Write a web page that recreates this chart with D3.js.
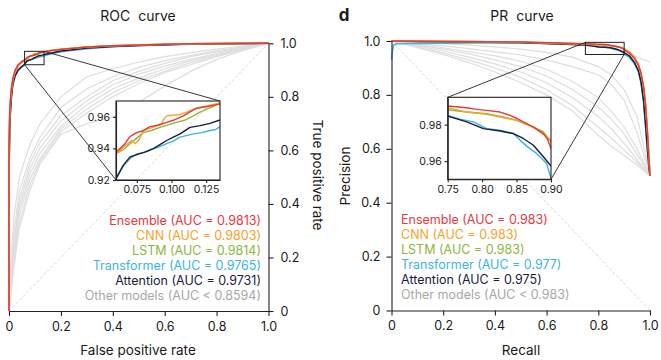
<!DOCTYPE html>
<html><head><meta charset="utf-8">
<script src="https://cdn.jsdelivr.net/npm/d3@7"></script>
<style>
body{margin:0;background:#fff}
svg{display:block}
text{font-family:"Inter","Noto Sans",sans-serif;fill:#1a1a1a}
</style>
</head><body>
<svg id="c" width="661" height="360"></svg>
<script>
// ---------------- DATA ----------------
const models = ["Ensemble", "CNN", "LSTM", "Transformer", "Attention"];
const rocAuc = ["0.9813", "0.9803", "0.9814", "0.9765", "0.9731"];
const prAuc = ["0.983", "0.983", "0.983", "0.977", "0.975"];
const otherRocAuc = "0.8594";
const otherPrAuc = "0.983";
const mainTicks = [0, 0.2, 0.4, 0.6, 0.8, 1.0];
const rocInsetXTicks = [0.075, 0.100, 0.125];
const rocInsetYTicks = [0.92, 0.94, 0.96];
const prInsetXTicks = [0.75, 0.80, 0.85, 0.90];
const prInsetYTicks = [0.96, 0.98];
const rocInsetDomainX = [0.06, 0.135];
const rocInsetDomainY = [0.92, 0.97];
const prInsetDomainX = [0.75, 0.90];
const prInsetDomainY = [0.95, 0.995];

// ROC curves [fpr, tpr]
const rocEnsemble = [[0,0],[0,0.6],[0.002,0.72],[0.004,0.765],[0.007,0.81],[0.01,0.838],[0.015,0.87],[0.023,0.898],[0.035,0.92],[0.048,0.931],[0.06,0.9377],[0.063,0.940],[0.0665,0.943],[0.070,0.9475],[0.0749,0.950],[0.079,0.951],[0.0845,0.9538],[0.090,0.9545],[0.0965,0.9565],[0.102,0.958],[0.1086,0.9606],[0.113,0.963],[0.118,0.9654],[0.126,0.9665],[0.135,0.968],[0.16,0.972],[0.2,0.977],[0.3,0.986],[0.4,0.991],[0.5,0.994],[0.6,0.996],[0.7,0.998],[0.8,0.999],[1,1]];
const rocCNN = [[0,0],[0,0.55],[0.002,0.70],[0.004,0.76],[0.007,0.80],[0.01,0.83],[0.015,0.865],[0.023,0.893],[0.035,0.915],[0.048,0.928],[0.06,0.9367],[0.0653,0.9408],[0.0713,0.945],[0.074,0.943],[0.077,0.946],[0.0797,0.9513],[0.0855,0.953],[0.0905,0.955],[0.093,0.9555],[0.094,0.958],[0.0965,0.9606],[0.1062,0.9615],[0.111,0.963],[0.118,0.9654],[0.126,0.967],[0.1336,0.9685],[0.135,0.9687],[0.16,0.973],[0.2,0.978],[0.3,0.986],[0.4,0.991],[0.5,0.994],[0.6,0.996],[0.7,0.998],[0.8,0.999],[1,1]];
const rocLSTM = [[0,0],[0,0.55],[0.002,0.70],[0.004,0.755],[0.007,0.80],[0.01,0.83],[0.015,0.862],[0.023,0.892],[0.035,0.914],[0.048,0.928],[0.06,0.9367],[0.065,0.939],[0.0701,0.943],[0.075,0.9465],[0.0797,0.950],[0.086,0.9515],[0.0917,0.9533],[0.098,0.955],[0.1037,0.9565],[0.110,0.958],[0.1158,0.9606],[0.1205,0.963],[0.1254,0.9648],[0.130,0.9665],[0.135,0.969],[0.16,0.9735],[0.2,0.978],[0.3,0.986],[0.4,0.991],[0.5,0.994],[0.6,0.996],[0.7,0.998],[0.8,0.999],[1,1]];
const rocTransformer = [[0,0],[0,0.5],[0.003,0.68],[0.006,0.75],[0.01,0.805],[0.015,0.845],[0.023,0.875],[0.035,0.898],[0.048,0.911],[0.06,0.9204],[0.0635,0.926],[0.0653,0.929],[0.0701,0.9335],[0.075,0.9365],[0.080,0.9375],[0.0845,0.9392],[0.090,0.9405],[0.0965,0.943],[0.101,0.9445],[0.1062,0.9471],[0.1158,0.9492],[0.122,0.950],[0.1278,0.9513],[0.132,0.952],[0.135,0.9538],[0.16,0.96],[0.2,0.968],[0.3,0.98],[0.4,0.987],[0.5,0.991],[0.6,0.994],[0.7,0.996],[0.8,0.998],[1,1]];
const rocAttention = [[0,0],[0,0.5],[0.003,0.69],[0.006,0.755],[0.01,0.808],[0.015,0.848],[0.023,0.878],[0.035,0.9],[0.048,0.912],[0.06,0.921],[0.0653,0.9294],[0.0701,0.9346],[0.0773,0.9367],[0.082,0.938],[0.0869,0.9398],[0.092,0.9425],[0.0965,0.945],[0.101,0.947],[0.1062,0.9492],[0.1134,0.9533],[0.1206,0.9544],[0.1278,0.9558],[0.135,0.958],[0.16,0.963],[0.2,0.971],[0.3,0.982],[0.4,0.988],[0.5,0.992],[0.6,0.995],[0.7,0.997],[0.8,0.998],[1,1]];

// Other ROC models: TPR at these FPR values
const rocOtherFpr = [0, 0.005, 0.01, 0.02, 0.04, 0.08, 0.12, 0.2, 0.3, 0.4, 0.5, 0.6, 0.7, 0.8, 0.9, 1.0];
const rocOther1 = [0, 0.14, 0.24, 0.36, 0.50, 0.62, 0.70, 0.80, 0.875, 0.905, 0.93, 0.95, 0.965, 0.978, 0.99, 1];
const rocOther2 = [0, 0.10, 0.18, 0.30, 0.45, 0.57, 0.65, 0.76, 0.83, 0.875, 0.91, 0.935, 0.955, 0.972, 0.987, 1];
const rocOther3 = [0, 0.09, 0.16, 0.27, 0.42, 0.55, 0.63, 0.73, 0.80, 0.86, 0.895, 0.925, 0.95, 0.968, 0.985, 1];
const rocOther4 = [0, 0.08, 0.15, 0.25, 0.40, 0.53, 0.61, 0.71, 0.785, 0.845, 0.885, 0.915, 0.94, 0.962, 0.982, 1];
const rocOther5 = [0, 0.07, 0.13, 0.23, 0.38, 0.51, 0.59, 0.69, 0.77, 0.83, 0.87, 0.905, 0.935, 0.958, 0.98, 1];
const rocOther6 = [0, 0.06, 0.12, 0.21, 0.36, 0.49, 0.57, 0.68, 0.755, 0.815, 0.86, 0.895, 0.928, 0.953, 0.978, 1];
const rocOther7 = [0, 0.05, 0.10, 0.19, 0.33, 0.47, 0.56, 0.67, 0.74, 0.80, 0.85, 0.89, 0.92, 0.95, 0.975, 1];
const rocOther8 = [0, 0.04, 0.09, 0.17, 0.31, 0.45, 0.55, 0.66, 0.70, 0.725, 0.78, 0.84, 0.895, 0.94, 0.972, 1];

// PR curves [recall, precision]
const prEnsemble = [[0,1],[0.1,0.999],[0.3,0.998],[0.5,0.996],[0.65,0.993],[0.75,0.9902],[0.7776,0.9893],[0.79,0.9885],[0.8066,0.9878],[0.826,0.9869],[0.8405,0.9851],[0.85,0.9835],[0.8598,0.9815],[0.8744,0.9787],[0.8889,0.9751],[0.895,0.972],[0.9,0.9669],[0.92,0.955],[0.94,0.935],[0.955,0.91],[0.965,0.88],[0.975,0.83],[0.983,0.76],[0.99,0.66],[0.996,0.56],[1,0.5]];
const prCNN = [[0,1],[0.1,0.999],[0.3,0.998],[0.5,0.996],[0.65,0.992],[0.75,0.9893],[0.7776,0.9869],[0.8066,0.9856],[0.826,0.9842],[0.8502,0.9824],[0.8695,0.9796],[0.884,0.976],[0.9,0.9715],[0.92,0.96],[0.94,0.94],[0.955,0.915],[0.965,0.885],[0.975,0.835],[0.983,0.765],[0.99,0.67],[0.996,0.57],[1,0.5]];
const prLSTM = [[0,1],[0.1,0.999],[0.3,0.997],[0.5,0.995],[0.65,0.991],[0.75,0.9882],[0.7776,0.9869],[0.8066,0.986],[0.8308,0.9842],[0.8502,0.9824],[0.8744,0.9787],[0.8889,0.976],[0.9,0.9705],[0.92,0.958],[0.94,0.938],[0.955,0.912],[0.965,0.88],[0.975,0.83],[0.983,0.76],[0.99,0.66],[0.996,0.56],[1,0.5]];
const prTransformer = [[0,0.93],[0.003,0.96],[0.008,0.985],[0.02,0.99],[0.1,0.991],[0.3,0.993],[0.5,0.993],[0.65,0.989],[0.75,0.9851],[0.7679,0.983],[0.7873,0.9815],[0.8066,0.9778],[0.826,0.9769],[0.8453,0.9751],[0.855,0.9715],[0.8647,0.9682],[0.879,0.9642],[0.8937,0.9587],[0.9,0.9505],[0.92,0.94],[0.94,0.915],[0.955,0.885],[0.965,0.845],[0.975,0.775],[0.982,0.69],[0.99,0.59],[0.996,0.53],[1,0.5]];
const prAttention = [[0,1],[0.1,0.998],[0.3,0.996],[0.5,0.994],[0.65,0.989],[0.75,0.9847],[0.7776,0.9815],[0.8018,0.9778],[0.826,0.9765],[0.8453,0.9751],[0.8598,0.9724],[0.8744,0.9687],[0.8889,0.9624],[0.9,0.9573],[0.92,0.945],[0.94,0.92],[0.955,0.89],[0.965,0.85],[0.975,0.78],[0.982,0.70],[0.99,0.60],[0.996,0.53],[1,0.5]];

// Other PR models: precision at these recall values
const prOtherRecall = [0, 0.1, 0.2, 0.3, 0.4, 0.5, 0.6, 0.7, 0.8, 0.85, 0.9, 0.95, 1.0];
const prOther1 = [1.0, 0.998, 0.997, 0.996, 0.995, 0.994, 0.992, 0.989, 0.983, 0.976, 0.962, 0.94, 0.922];
const prOther2 = [1.0, 0.995, 0.99, 0.985, 0.978, 0.97, 0.958, 0.94, 0.905, 0.875, 0.82, 0.72, 0.5];
const prOther3 = [1.0, 0.99, 0.982, 0.972, 0.96, 0.948, 0.93, 0.905, 0.875, 0.84, 0.78, 0.66, 0.5];
const prOther4 = [1.0, 0.988, 0.975, 0.96, 0.945, 0.925, 0.895, 0.85, 0.79, 0.74, 0.68, 0.6, 0.5];
const prOther5 = [1.0, 0.985, 0.97, 0.952, 0.93, 0.905, 0.87, 0.82, 0.755, 0.71, 0.655, 0.58, 0.5];
const prOther6 = [1.0, 0.982, 0.963, 0.94, 0.915, 0.885, 0.845, 0.79, 0.72, 0.675, 0.62, 0.56, 0.5];
const prOther7 = [1.0, 0.978, 0.955, 0.93, 0.9, 0.865, 0.82, 0.76, 0.68, 0.64, 0.595, 0.55, 0.5];
const prOther8 = [1.0, 0.975, 0.95, 0.92, 0.885, 0.845, 0.80, 0.74, 0.65, 0.61, 0.575, 0.54, 0.5];

// ---------------- STYLE ----------------
const colors = ["#e8383d", "#f6a326", "#8cb83c", "#3cb4e5", "#1c1c3a"];
const otherColor = "#a8a8a8";
const grayLine = "#dedede";

// ---------------- BUILD ----------------
const rocSeries = [rocEnsemble, rocCNN, rocLSTM, rocTransformer, rocAttention];
const prSeries = [prEnsemble, prCNN, prLSTM, prTransformer, prAttention];
const rocOthers = [rocOther1, rocOther2, rocOther3, rocOther4, rocOther5, rocOther6, rocOther7, rocOther8]
  .map(arr => arr.map((v, i) => [rocOtherFpr[i], v]));
const prOthers = [prOther1, prOther2, prOther3, prOther4, prOther5, prOther6, prOther7, prOther8]
  .map(arr => arr.map((v, i) => [prOtherRecall[i], v]));
const drawOrder = [3, 4, 2, 1, 0];

const svg = d3.select("#c");
const defs = svg.append("defs");

const rocX = d3.scaleLinear().domain([0, 1]).range([9, 268.5]);
const rocY = d3.scaleLinear().domain([0, 1]).range([311, 43.3]);
const prX = d3.scaleLinear().domain([0, 1]).range([391.5, 650]);
const prY = d3.scaleLinear().domain([0, 1]).range([310.5, 41]);

const rocIX = d3.scaleLinear().domain(rocInsetDomainX).range([116, 220]);
const rocIY = d3.scaleLinear().domain(rocInsetDomainY).range([180, 101]);
const prIX = d3.scaleLinear().domain(prInsetDomainX).range([447.7, 551]);
const prIY = d3.scaleLinear().domain(prInsetDomainY).range([179.3, 97.3]);

function lineGen(xs, ys) { return d3.line().x(d => xs(d[0])).y(d => ys(d[1])); }
const mainFmt = d => d === 0 ? "0" : d3.format(".1f")(d);

function styleAxis(g, fs) {
  g.selectAll("path.domain").attr("stroke", "#222").attr("stroke-width", 1.1);
  g.selectAll(".tick line").attr("stroke", "#222").attr("stroke-width", 1.1);
  g.selectAll(".tick text").attr("font-size", fs).attr("fill", "#1a1a1a")
    .style("font-family", '"Inter","Noto Sans",sans-serif');
}

// ======= ROC panel =======
const roc = svg.append("g");
// diagonal
roc.append("line")
  .attr("x1", rocX(0)).attr("y1", rocY(0)).attr("x2", rocX(1)).attr("y2", rocY(1))
  .attr("stroke", "#cfcfcf").attr("stroke-width", 0.8).attr("stroke-dasharray", "3,2");
// other models
roc.selectAll("path.other").data(rocOthers).enter().append("path")
  .attr("class", "other").attr("d", lineGen(rocX, rocY))
  .attr("fill", "none").attr("stroke", grayLine).attr("stroke-width", 1.2);
// models
drawOrder.forEach(i => {
  roc.append("path").datum(rocSeries[i]).attr("d", lineGen(rocX, rocY))
    .attr("fill", "none").attr("stroke", colors[i]).attr("stroke-width", 1.5)
    .attr("stroke-linejoin", "round");
});
// zoom rectangle and connectors
const rr = {x0: rocX(rocInsetDomainX[0]), x1: rocX(rocInsetDomainX[1]), y0: rocY(rocInsetDomainY[1]), y1: rocY(rocInsetDomainY[0])};
roc.append("rect").attr("x", rr.x0).attr("y", rr.y0).attr("width", rr.x1 - rr.x0).attr("height", rr.y1 - rr.y0)
  .attr("fill", "none").attr("stroke", "#222").attr("stroke-width", 1);
roc.append("line").attr("x1", rr.x1).attr("y1", rr.y0).attr("x2", rocIX.range()[1]).attr("y2", rocIY.range()[1])
  .attr("stroke", "#222").attr("stroke-width", 0.9);
roc.append("line").attr("x1", rr.x0).attr("y1", rr.y1).attr("x2", rocIX.range()[0]).attr("y2", rocIY.range()[0])
  .attr("stroke", "#222").attr("stroke-width", 0.9);

// inset
defs.append("clipPath").attr("id", "clipRoc").append("rect")
  .attr("x", 116).attr("y", 101).attr("width", 104).attr("height", 79);
roc.append("rect").attr("x", 116).attr("y", 101).attr("width", 104).attr("height", 79).attr("fill", "#fff");
const rocIn = roc.append("g").attr("clip-path", "url(#clipRoc)");
rocIn.append("line")
  .attr("x1", rocX(0)).attr("y1", rocY(0)).attr("x2", rocX(1)).attr("y2", rocY(1))
  .attr("stroke", "#cfcfcf").attr("stroke-width", 0.8).attr("stroke-dasharray", "3,2");
drawOrder.forEach(i => {
  rocIn.append("path").datum(rocSeries[i]).attr("d", lineGen(rocIX, rocIY))
    .attr("fill", "none").attr("stroke", colors[i]).attr("stroke-width", 1.4)
    .attr("stroke-linejoin", "round");
});
roc.append("rect").attr("x", 116).attr("y", 101).attr("width", 104).attr("height", 79)
  .attr("fill", "none").attr("stroke", "#222").attr("stroke-width", 1.1);
const rix = roc.append("g").attr("transform", "translate(0,180)")
  .call(d3.axisBottom(rocIX).tickValues(rocInsetXTicks).tickFormat(d3.format(".3f")).tickSize(3).tickPadding(3).tickSizeOuter(0));
styleAxis(rix, "10.5px");
const riy = roc.append("g").attr("transform", "translate(116,0)")
  .call(d3.axisLeft(rocIY).tickValues(rocInsetYTicks).tickFormat(d3.format(".2f")).tickSize(3).tickPadding(3).tickSizeOuter(0));
styleAxis(riy, "10.5px");

// axes
const rax = roc.append("g").attr("transform", "translate(0,311)")
  .call(d3.axisBottom(rocX).tickValues(mainTicks).tickFormat(mainFmt).tickSize(5).tickPadding(6).tickSizeOuter(0));
styleAxis(rax, "12.5px");
const ray = roc.append("g").attr("transform", "translate(268.5,0)")
  .call(d3.axisRight(rocY).tickValues(mainTicks).tickFormat(mainFmt).tickSize(5).tickPadding(7).tickSizeOuter(0));
styleAxis(ray, "12.5px");

roc.append("text").attr("x", 138).attr("y", 16).attr("dy", "0.35em").attr("text-anchor", "middle")
  .attr("font-size", "14px").style("white-space", "pre").text("ROC  curve");
roc.append("text").attr("x", 138).attr("y", 350).attr("dy", "0.35em").attr("text-anchor", "middle")
  .attr("font-size", "13.5px").text("False positive rate");
roc.append("text").attr("transform", "translate(318,175) rotate(90)").attr("dy", "0.35em").attr("text-anchor", "middle")
  .attr("font-size", "13.5px").text("True positive rate");

// legend
const rocLeg = models.map((m, i) => ({t: `${m} (AUC = ${rocAuc[i]})`, c: colors[i]}))
  .concat([{t: `Other models (AUC < ${otherRocAuc})`, c: otherColor}]);
roc.selectAll("text.leg").data(rocLeg).enter().append("text").attr("class", "leg")
  .attr("x", 261).attr("y", (d, i) => 220.7 + i * 15.06).attr("dy", "0.35em")
  .attr("text-anchor", "end").attr("font-size", "12.5px")
  .style("fill", d => d.c).text(d => d.t);

// ======= PR panel =======
const pr = svg.append("g");
pr.append("line")
  .attr("x1", prX(0)).attr("y1", prY(1)).attr("x2", prX(1)).attr("y2", prY(0))
  .attr("stroke", "#cfcfcf").attr("stroke-width", 0.8).attr("stroke-dasharray", "3,2");
pr.selectAll("path.other").data(prOthers).enter().append("path")
  .attr("class", "other").attr("d", lineGen(prX, prY))
  .attr("fill", "none").attr("stroke", grayLine).attr("stroke-width", 1.2);
drawOrder.forEach(i => {
  pr.append("path").datum(prSeries[i]).attr("d", lineGen(prX, prY))
    .attr("fill", "none").attr("stroke", colors[i]).attr("stroke-width", 1.5)
    .attr("stroke-linejoin", "round");
});
const pq = {x0: prX(prInsetDomainX[0]), x1: prX(prInsetDomainX[1]), y0: prY(prInsetDomainY[1]), y1: prY(prInsetDomainY[0])};
pr.append("rect").attr("x", pq.x0).attr("y", pq.y0).attr("width", pq.x1 - pq.x0).attr("height", pq.y1 - pq.y0)
  .attr("fill", "none").attr("stroke", "#222").attr("stroke-width", 1);
pr.append("line").attr("x1", pq.x0).attr("y1", pq.y0).attr("x2", prIX.range()[0]).attr("y2", prIY.range()[1])
  .attr("stroke", "#222").attr("stroke-width", 0.9);
pr.append("line").attr("x1", pq.x1).attr("y1", pq.y1).attr("x2", prIX.range()[1]).attr("y2", prIY.range()[0])
  .attr("stroke", "#222").attr("stroke-width", 0.9);

defs.append("clipPath").attr("id", "clipPr").append("rect")
  .attr("x", 447.7).attr("y", 97.3).attr("width", 103.3).attr("height", 82);
pr.append("rect").attr("x", 447.7).attr("y", 97.3).attr("width", 103.3).attr("height", 82).attr("fill", "#fff");
const prIn = pr.append("g").attr("clip-path", "url(#clipPr)");
drawOrder.forEach(i => {
  prIn.append("path").datum(prSeries[i]).attr("d", lineGen(prIX, prIY))
    .attr("fill", "none").attr("stroke", colors[i]).attr("stroke-width", 1.4)
    .attr("stroke-linejoin", "round");
});
pr.append("rect").attr("x", 447.7).attr("y", 97.3).attr("width", 103.3).attr("height", 82)
  .attr("fill", "none").attr("stroke", "#222").attr("stroke-width", 1.1);
const pix = pr.append("g").attr("transform", "translate(0,179.3)")
  .call(d3.axisBottom(prIX).tickValues(prInsetXTicks).tickFormat(d3.format(".2f")).tickSize(3).tickPadding(3).tickSizeOuter(0));
styleAxis(pix, "10.5px");
const piy = pr.append("g").attr("transform", "translate(447.7,0)")
  .call(d3.axisLeft(prIY).tickValues(prInsetYTicks).tickFormat(d3.format(".2f")).tickSize(3).tickPadding(3).tickSizeOuter(0));
styleAxis(piy, "10.5px");

const pax = pr.append("g").attr("transform", "translate(0,310.5)")
  .call(d3.axisBottom(prX).tickValues(mainTicks).tickFormat(mainFmt).tickSize(5).tickPadding(6).tickSizeOuter(0));
styleAxis(pax, "12.5px");
const pay = pr.append("g").attr("transform", "translate(391.5,0)")
  .call(d3.axisLeft(prY).tickValues(mainTicks).tickFormat(mainFmt).tickSize(5).tickPadding(6).tickSizeOuter(0));
styleAxis(pay, "12.5px");

pr.append("text").attr("x", 344).attr("y", 15).attr("dy", "0.35em").attr("text-anchor", "middle")
  .attr("font-size", "17px").attr("font-weight", "bold").text("d");
pr.append("text").attr("x", 522).attr("y", 16).attr("dy", "0.35em").attr("text-anchor", "middle")
  .attr("font-size", "14px").style("white-space", "pre").text("PR  curve");
pr.append("text").attr("x", 521).attr("y", 350).attr("dy", "0.35em").attr("text-anchor", "middle")
  .attr("font-size", "13.5px").text("Recall");
pr.append("text").attr("transform", "translate(345,176) rotate(-90)").attr("dy", "0.35em").attr("text-anchor", "middle")
  .attr("font-size", "13.5px").text("Precision");

const prLeg = models.map((m, i) => ({t: `${m} (AUC = ${prAuc[i]})`, c: colors[i]}))
  .concat([{t: `Other models (AUC < ${otherPrAuc})`, c: otherColor}]);
pr.selectAll("text.leg").data(prLeg).enter().append("text").attr("class", "leg")
  .attr("x", 401).attr("y", (d, i) => 219.5 + i * 15.05).attr("dy", "0.35em")
  .attr("text-anchor", "start").attr("font-size", "12.5px")
  .style("fill", d => d.c).text(d => d.t);
</script>
</body></html>
